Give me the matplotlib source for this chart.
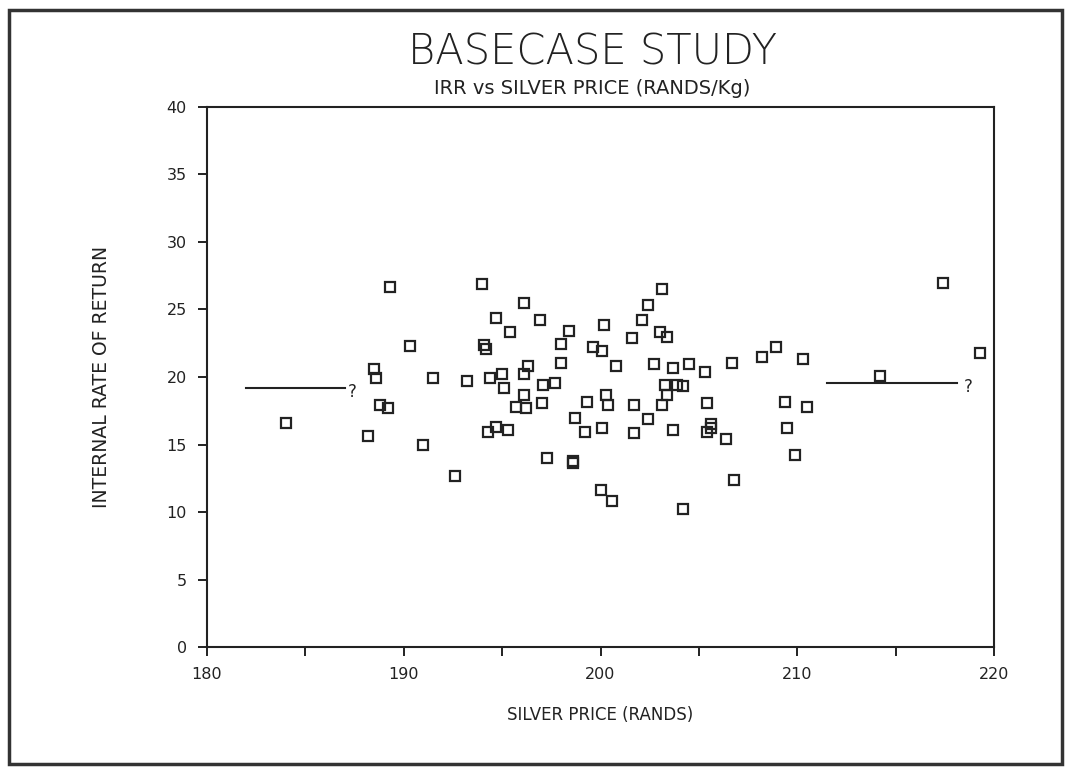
import matplotlib
matplotlib.use("Agg")
import matplotlib.pyplot as plt
from matplotlib.patches import Rectangle

# silver price (rands/kg) and internal rate of return (%) for each run
silver_price = [
    184.0, 188.2, 188.5, 188.6, 188.8, 189.2, 189.3, 190.3, 191.0, 191.5,
    192.6, 193.2, 194.0, 194.1, 194.2, 194.3, 194.4, 194.7, 194.7, 195.0,
    195.1, 195.3, 195.4, 195.7, 196.1, 196.1, 196.1, 196.2, 196.3, 196.9,
    197.0, 197.1, 197.3, 197.7, 198.0, 198.0, 198.4, 198.6, 198.6, 198.7,
    199.2, 199.3, 199.6, 200.0, 200.1, 200.1, 200.2, 200.3, 200.4, 200.6,
    200.8, 201.6, 201.7, 201.7, 202.1, 202.4, 202.4, 202.7, 203.0, 203.1,
    203.1, 203.3, 203.4, 203.4, 203.7, 203.7, 203.9, 204.2, 204.2, 204.5,
    205.3, 205.4, 205.4, 205.6, 205.6, 206.4, 206.7, 206.8, 208.2, 208.9,
    209.4, 209.5, 209.9, 210.3, 210.5, 214.2, 217.4, 219.3,
]
irr = [
    16.6, 15.6, 20.6, 19.9, 17.9, 17.7, 26.7, 22.3, 15.0, 19.9,
    12.7, 19.7, 26.9, 22.4, 22.1, 15.9, 19.9, 24.4, 16.3, 20.2,
    19.2, 16.1, 23.3, 17.75, 20.2, 25.5, 18.7, 17.7, 20.8, 24.2,
    18.05, 19.4, 14.0, 19.55, 22.45, 21.05, 23.4, 13.8, 13.6, 17.0,
    15.9, 18.15, 22.25, 11.6, 21.95, 16.2, 23.85, 18.7, 17.9, 10.8,
    20.8, 22.9, 17.9, 15.85, 24.2, 25.3, 16.9, 20.95, 23.3, 26.5,
    17.9, 19.4, 22.95, 18.7, 20.7, 16.1, 19.4, 19.3, 10.25, 21.0,
    20.35, 18.05, 15.9, 16.55, 16.25, 15.4, 21.05, 12.4, 21.45, 22.25,
    18.15, 16.2, 14.25, 21.3, 17.8, 20.1, 26.95, 21.8,
]

# hand-drawn trend segments at each end of the range
left_seg_x = [182.0, 187.0]
left_seg_y = [19.2, 19.2]
right_seg_x = [211.5, 218.1]
right_seg_y = [19.55, 19.55]

x_ticks = [180, 185, 190, 195, 200, 205, 210, 215, 220]
x_tick_labels = ["180", "", "190", "", "200", "", "210", "", "220"]
y_ticks = [0, 5, 10, 15, 20, 25, 30, 35, 40]

ink = "#222222"
plt.rcParams["font.family"] = ["DejaVu Sans"]

fig = plt.figure(figsize=(10.66, 7.69), dpi=100)
ax = fig.add_axes([0.1942, 0.1586, 0.7383, 0.7023])

ax.plot(silver_price, irr, linestyle="none", marker="s", markersize=7.5,
        markerfacecolor="none", markeredgecolor=ink, markeredgewidth=1.6)

ax.plot(left_seg_x, left_seg_y, color=ink, linewidth=1.5)
ax.plot(right_seg_x, right_seg_y, color=ink, linewidth=1.5)
ax.text(left_seg_x[1] + 0.15, left_seg_y[0] - 0.3, "?", fontsize=12,
        color=ink, ha="left", va="center")
ax.text(right_seg_x[1] + 0.35, right_seg_y[0] - 0.3, "?", fontsize=12,
        color=ink, ha="left", va="center")

ax.set_xlim(180, 220)
ax.set_ylim(0, 40)
ax.set_xticks(x_ticks)
ax.set_xticklabels(x_tick_labels)
ax.set_yticks(y_ticks)
ax.tick_params(direction="out", length=6.5, width=1.4, colors=ink,
               labelsize=11.5, pad=8)
for spine in ax.spines.values():
    spine.set_linewidth(1.5)
    spine.set_color(ink)

ax.set_xlabel("SILVER PRICE (RANDS)", fontsize=12, color=ink, labelpad=17)
ax.set_ylabel("INTERNAL RATE OF RETURN", fontsize=13.5, color=ink,
              labelpad=40)

fig.text(0.5555, 0.933, "BASECASE STUDY", fontsize=30, color=ink,
         ha="center", va="center", fontweight="light")
fig.text(0.5555, 0.885, "IRR vs SILVER PRICE (RANDS/Kg)", fontsize=14,
         color=ink, ha="center", va="center")

# page border
fig.patches.append(Rectangle((0.008, 0.006), 0.988, 0.981,
                             transform=fig.transFigure, fill=False,
                             edgecolor="#333333", linewidth=2.5))

fig.savefig("out.png", dpi=100)
